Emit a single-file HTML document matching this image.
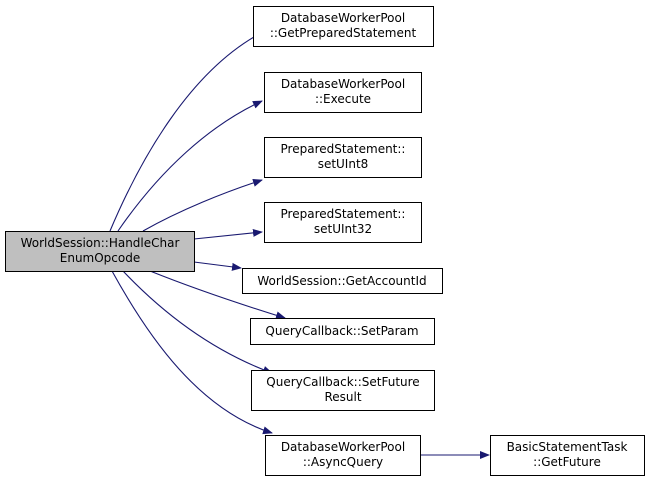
<!DOCTYPE html>
<html><head><meta charset="utf-8"><style>
body{margin:0;background:#fff;width:648px;height:481px;overflow:hidden}
svg text{font-family:"DejaVu Sans","Liberation Sans",sans-serif;font-size:12px;fill:#000}
</style></head><body>
<svg width="648" height="481" viewBox="0 0 648 481" xmlns="http://www.w3.org/2000/svg">
<defs><marker id="a" viewBox="0 0 10 10" refX="9" refY="5" markerWidth="10" markerHeight="10" markerUnits="userSpaceOnUse" orient="auto"><path d="M0,1 L10,5 L0,9 z" fill="#191970"/></marker></defs>
<g fill="none" stroke="#191970" stroke-width="1.1" marker-end="url(#a)">
<path d="M110,231 C140,160 190,70 263,32"/>
<path d="M118,231 C160,170 210,125 262,101"/>
<path d="M143,231 C180,210 225,192 262,180"/>
<path d="M194,239 L262,232"/>
<path d="M194,262 L241,268"/>
<path d="M150,271 C190,287 230,301 285,318"/>
<path d="M123,271 C160,310 210,350 272,373"/>
<path d="M112,271 C150,340 200,410 272,433"/>
<path d="M420,455 L489,455"/>
</g>
<g stroke="#000" stroke-width="1" fill="#fff">
<rect x="5.5" y="231.5" width="189" height="40" fill="#bfbfbf"/>
<rect x="253.5" y="6.5" width="180" height="40"/>
<rect x="264.5" y="72.5" width="157" height="40"/>
<rect x="264.5" y="137.5" width="157" height="40"/>
<rect x="264.5" y="202.5" width="157" height="40"/>
<rect x="242.5" y="268.5" width="200" height="25"/>
<rect x="250.5" y="318.5" width="184" height="26"/>
<rect x="251.5" y="370.5" width="183" height="40"/>
<rect x="265.5" y="435.5" width="155" height="40"/>
<rect x="490.5" y="435.5" width="154" height="40"/>
</g>
<g text-anchor="middle">
<text x="100" y="247">WorldSession::HandleChar</text><text x="100" y="262">EnumOpcode</text>
<text x="343" y="22">DatabaseWorkerPool</text><text x="343" y="37">::GetPreparedStatement</text>
<text x="343" y="88">DatabaseWorkerPool</text><text x="343" y="103">::Execute</text>
<text x="343" y="153">PreparedStatement::</text><text x="343" y="168">setUInt8</text>
<text x="343" y="218">PreparedStatement::</text><text x="343" y="233">setUInt32</text>
<text x="342" y="285">WorldSession::GetAccountId</text>
<text x="342" y="335">QueryCallback::SetParam</text>
<text x="343" y="386">QueryCallback::SetFuture</text><text x="343" y="401">Result</text>
<text x="343" y="451">DatabaseWorkerPool</text><text x="343" y="466">::AsyncQuery</text>
<text x="567" y="451">BasicStatementTask</text><text x="567" y="466">::GetFuture</text>
</g>
</svg>
</body></html>
